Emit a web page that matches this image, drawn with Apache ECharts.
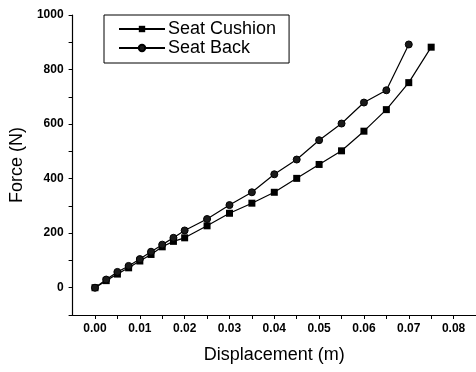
<!DOCTYPE html>
<html>
<head>
<meta charset="utf-8">
<script src="https://cdn.jsdelivr.net/npm/echarts@6/dist/echarts.min.js"></script>
<style>
  html, body { margin: 0; padding: 0; background: #fff; }
  #chart { width: 476px; height: 372px; }
</style>
</head>
<body>
<div id="chart"></div>
<script>
// displacement (m) for each measured point
const cushionX = [0, 0.0025, 0.005, 0.0075, 0.01, 0.0125, 0.015, 0.0175, 0.02, 0.025,
  0.03, 0.035, 0.04, 0.045, 0.05, 0.055, 0.06, 0.065, 0.07, 0.075];
const cushionF = [0, 26, 50, 73, 98, 122, 150, 170, 183, 227,
  273, 310, 350, 401, 452, 502, 574, 653, 752, 882];

const backX = [0, 0.0025, 0.005, 0.0075, 0.01, 0.0125, 0.015, 0.0175, 0.02, 0.025,
  0.03, 0.035, 0.04, 0.045, 0.05, 0.055, 0.06, 0.065, 0.07];
const backF = [0, 30, 58, 80, 105, 132, 158, 183, 210, 252,
  303, 350, 416, 470, 541, 602, 679, 724, 892];

const xLabels = [0, 0.01, 0.02, 0.03, 0.04, 0.05, 0.06, 0.07, 0.08];
const xTicks = [0, 0.005, 0.01, 0.015, 0.02, 0.025, 0.03, 0.035, 0.04, 0.045,
  0.05, 0.055, 0.06, 0.065, 0.07, 0.075, 0.08, 0.085];
const yLabels = [0, 200, 400, 600, 800, 1000];
const yTicks = [-100, 0, 100, 200, 300, 400, 500, 600, 700, 800, 900, 1000];

const font = "'Liberation Sans', Arial, sans-serif";

const pairs = (xs, ys) => xs.map((x, i) => [x, ys[i]]);

const chart = echarts.init(document.getElementById("chart"));

chart.setOption({
  animation: false,
  backgroundColor: "#fff",
  textStyle: { fontFamily: font, color: "#000" },
  grid: { left: 72, top: 15, width: 405, bottom: 57, containLabel: false },
  legend: {
    left: 104,
    top: 15,
    orient: "vertical",
    padding: [5, 13, 6, 14],
    itemGap: 1,
    itemWidth: 46,
    itemHeight: 8,
    borderColor: "#000",
    borderWidth: 1,
    textStyle: { fontFamily: font, fontSize: 18, color: "#000", padding: [0, 0, 0, -2] },
    data: ["Seat Cushion", "Seat Back"]
  },
  xAxis: {
    type: "value",
    min: -0.005,
    max: 0.085,
    name: "Displacement (m)",
    nameLocation: "middle",
    nameGap: 31,
    nameTextStyle: { fontFamily: font, fontSize: 18, color: "#000" },
    axisLine: { show: true, onZero: false, lineStyle: { color: "#000", width: 1.2 } },
    axisTick: { show: true, length: 4, customValues: xTicks, lineStyle: { color: "#000" } },
    axisLabel: {
      customValues: xLabels,
      margin: 8,
      fontFamily: font,
      fontSize: 12,
      fontWeight: "bold",
      color: "#000",
      formatter: v => v.toFixed(2)
    },
    splitLine: { show: false }
  },
  yAxis: {
    type: "value",
    min: -100,
    max: 1000,
    name: "Force (N)",
    nameLocation: "middle",
    nameGap: 46,
    nameTextStyle: { fontFamily: font, fontSize: 18, color: "#000" },
    axisLine: { show: true, onZero: false, lineStyle: { color: "#000", width: 1.2 } },
    axisTick: { show: true, length: 4, customValues: yTicks, lineStyle: { color: "#000" } },
    axisLabel: {
      customValues: yLabels,
      margin: 9,
      fontFamily: font,
      fontSize: 12,
      fontWeight: "bold",
      color: "#000",
      formatter: v => String(v)
    },
    splitLine: { show: false }
  },
  series: [
    {
      name: "Seat Cushion",
      type: "line",
      data: pairs(cushionX, cushionF),
      symbol: "rect",
      symbolSize: 7,
      showAllSymbol: true,
      itemStyle: { color: "#000" },
      lineStyle: { color: "#000", width: 1.2 }
    },
    {
      name: "Seat Back",
      type: "line",
      data: pairs(backX, backF),
      symbol: "circle",
      symbolSize: 7,
      showAllSymbol: true,
      itemStyle: { color: "#1a1a1a", borderColor: "#000", borderWidth: 1 },
      lineStyle: { color: "#000", width: 1.2 }
    }
  ]
});
</script>
</body>
</html>
